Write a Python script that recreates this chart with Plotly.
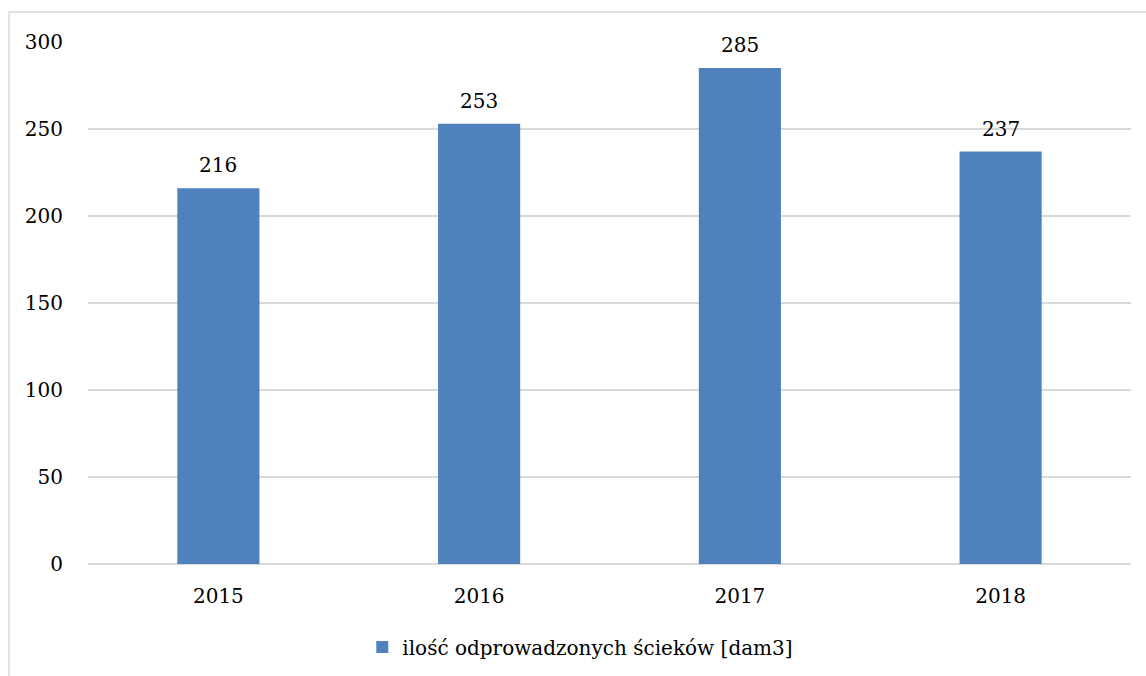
import plotly.graph_objects as go

years = ["2015", "2016", "2017", "2018"]
values = [216, 253, 285, 237]
series_name = "ilość odprowadzonych ścieków [dam3]"
y_ticks = [0, 50, 100, 150, 200, 250, 300]

FONT = "DejaVu Serif"
BAR = "#4F81BD"
GRID = "#D9D9D9"
FS = 20

fig = go.Figure()
fig.add_trace(go.Bar(
    x=years, y=values, name=series_name,
    marker=dict(color=BAR, line=dict(width=0)),
    showlegend=True,
))

for i, v in enumerate(values):
    fig.add_annotation(x=i, y=v, text=str(v), showarrow=False,
                       xref="x", yref="y",
                       yanchor="bottom", yshift=9,
                       font=dict(family=FONT, size=FS, color="#000000"))

fig.add_shape(type="rect", xref="paper", yref="paper",
              x0=-0.0757, x1=1.2, y0=-0.4, y1=1.0575,
              line=dict(color=GRID, width=1.5), layer="below")

fig.update_layout(
    width=1146, height=676,
    margin=dict(l=88, r=15, t=42, b=112, autoexpand=False),
    paper_bgcolor="white", plot_bgcolor="white",
    bargap=0.685,
    font=dict(family=FONT, size=FS, color="#000000"),
    legend=dict(orientation="h", x=0.472, xanchor="center", y=-0.159, yanchor="middle",
                font=dict(family=FONT, size=FS, color="#000000"),
                itemwidth=30),
    xaxis=dict(type="category", range=[-0.5, 3.5], showgrid=False, showline=False,
               ticks="outside", ticklen=14, tickcolor="rgba(0,0,0,0)",
               automargin=False,
               tickfont=dict(family=FONT, size=FS, color="#000000")),
    yaxis=dict(range=[0, 300], tickvals=y_ticks, showgrid=True, gridcolor=GRID, gridwidth=1.5,
               zeroline=True, zerolinecolor=GRID, zerolinewidth=1.5, automargin=False,
               showline=False, ticks="outside", ticklen=20, tickcolor="rgba(0,0,0,0)",
               tickfont=dict(family=FONT, size=FS, color="#000000")),
)

fig.write_html("out.html", config={"displayModeBar": False},
               post_script="document.body.style.margin='0';")
